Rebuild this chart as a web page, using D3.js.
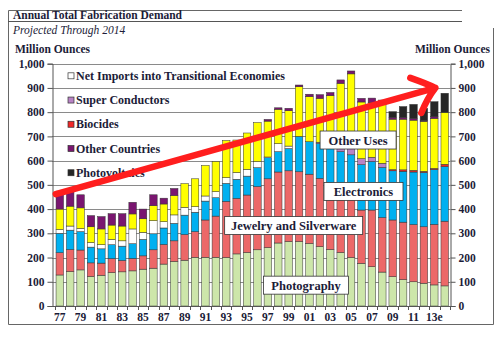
<!DOCTYPE html>
<html>
<head>
<meta charset="utf-8">
<script src="https://cdn.jsdelivr.net/npm/d3@7"></script>
<style>
  body { margin: 0; background: #fff; }
  svg text { font-family: "Liberation Serif", "Times New Roman", serif; }
</style>
</head>
<body>
<script>
// years on the x axis (labels shown every other year)
var years = ["77","78","79","80","81","82","83","84","85","86","87","88","89","90","91","92","93","94","95","96",
             "97","98","99","00","01","02","03","04","05","06","07","08","09","10","11","12","13e","14e"];
var tickYears = ["77","79","81","83","85","87","89","91","93","95","97","99","01","03","05","07","09","11","13e"];
var yTicks = [0,100,200,300,400,500,600,700,800,900,1000];

// million ounces per segment, bottom to top
var photography   = [128,142,149,122,127,138,141,145,152,156,173,184,189,201,201,201,200,215,221,232,
                     241,260,266,266,258,245,233,221,200,176,162,140,121,109,100,94,87,83];
var jewelry       = [92,91,82,56,50,57,47,51,55,76,81,85,106,106,154,170,232,229,237,261,
                     284,293,292,288,286,282,275,256,255,220,234,225,234,237,236,233,250,267];
var electronics   = [80,80,76,65,59,58,59,61,68,66,68,72,80,80,78,76,74,79,78,78,
                     87,84,92,146,134,143,149,160,169,187,200,207,203,210,217,224,226,225];
var netImports    = [16,17,13,19,17,22,22,61,29,54,26,35,32,23,21,25,24,28,28,25,
                     3,33,10,0,0,0,0,0,0,0,0,0,0,0,0,0,0,0];
var superCond     = [0,0,0,0,0,0,0,0,0,0,0,0,0,0,0,0,0,0,0,0,
                     0,0,0,0,0,6,23,56,59,25,18,17,0,0,0,0,0,0];
var biocides      = [0,0,0,0,0,0,0,0,0,0,0,0,0,0,0,0,0,0,0,0,
                     0,0,0,0,0,0,0,0,0,0,0,0,5,6,7,5,5,10];
var otherUses     = [84,82,85,65,65,59,61,62,56,62,73,80,98,115,126,124,153,134,150,161,
                     148,142,146,205,186,181,188,226,275,234,226,251,208,209,207,206,206,214];
var otherCountries= [74,58,54,46,51,47,51,48,40,45,24,29,0,0,0,0,0,0,0,0,
                     7,6,10,7,10,15,13,14,12,15,18,10,7,7,7,4,7,0];
var photovoltaics = [0,0,0,0,0,0,0,0,0,0,0,0,0,0,0,0,0,0,0,0,
                     0,0,0,0,0,0,0,0,0,0,0,0,24,45,58,50,62,79];

var seriesNames = ["Photography","Jewelry and Silverware","Electronics","Net Imports into Transitional Economies",
                   "Super Conductors","Biocides","Other Uses","Other Countries","Photovoltaics"];
var seriesValues = [photography,jewelry,electronics,netImports,superCond,biocides,otherUses,otherCountries,photovoltaics];
var seriesColors = ["#CDE6AA","#EC6868","#00B0F0","#FFFFFF","#B983C6","#F02828","#FFFF00","#7A1670","#262626"];

// legend entries (top to bottom)
var legendNames = ["Net Imports into Transitional Economies","Super Conductors","Biocides","Other Countries","Photovoltaics"];

// build table for the stack
var table = years.map(function(y,i){
  var row = {year:y};
  seriesNames.forEach(function(n,j){ row[n] = seriesValues[j][i]; });
  return row;
});

var W = 500, H = 339;
var svg = d3.select("body").append("svg").attr("width",W).attr("height",H);

var x = d3.scaleBand().domain(years).range([55,449.5]).paddingInner(0.28).paddingOuter(0.1);
var y = d3.scaleLinear().domain([0,1000]).range([306,63.7]);

var ink = "#1c1c38";

// frame
svg.append("path").attr("d","M462,10.5H8.5V324.5H493.5V28").attr("fill","none").attr("stroke","#666").attr("stroke-width",1);
svg.append("line").attr("x1",8).attr("x2",462).attr("y1",21.5).attr("y2",21.5).attr("stroke","#555");

svg.append("text").attr("x",13).attr("y",19).style("font-weight","bold").style("font-size","11.5px").attr("fill",ink)
  .text("Annual Total Fabrication Demand");
svg.append("text").attr("x",13).attr("y",34).style("font-style","italic").style("font-size","11.5px").attr("fill",ink)
  .text("Projected Through 2014");
svg.append("text").attr("x",15).attr("y",53).style("font-weight","bold").style("font-size","11.5px").attr("fill",ink)
  .text("Million Ounces");
svg.append("text").attr("x",490).attr("y",53).attr("text-anchor","end").style("font-weight","bold").style("font-size","11.5px").attr("fill",ink)
  .text("Million Ounces");

// gridlines
svg.append("g").selectAll("line").data(yTicks.slice(1)).enter().append("line")
  .attr("x1",52).attr("x2",450).attr("y1",function(d){return Math.round(y(d))+0.5;}).attr("y2",function(d){return Math.round(y(d))+0.5;})
  .attr("stroke","#8a8a8a").attr("stroke-width",1);

// stacked bars
var stack = d3.stack().keys(seriesNames);
var layers = stack(table);
svg.append("g").selectAll("g").data(layers).enter().append("g")
  .attr("fill",function(d,i){return seriesColors[i];})
  .selectAll("rect").data(function(d){return d.filter(function(p){return p[1]-p[0]>0;});}).enter().append("rect")
  .attr("x",function(d){return x(d.data.year);})
  .attr("width",x.bandwidth())
  .attr("y",function(d){return y(d[1]);})
  .attr("height",function(d){return y(d[0])-y(d[1]);})
  .attr("stroke","#333").attr("stroke-width",0.5);

// axes
var yLeft = d3.axisLeft(y).tickValues(yTicks).tickSize(5).tickFormat(d3.format(","));
var yRight = d3.axisRight(y).tickValues(yTicks).tickSize(5).tickFormat(d3.format(","));
var gl = svg.append("g").attr("transform","translate(52.5,0)").call(yLeft);
var gr = svg.append("g").attr("transform","translate(450.5,0)").call(yRight);
[gl,gr].forEach(function(g){
  g.select(".domain").attr("stroke","#555");
  g.selectAll(".tick line").attr("stroke","#555");
  g.selectAll("text").style("font-weight","bold").style("font-size","11.5px").style("font-family","Liberation Serif").attr("fill",ink);
});

// x axis: baseline, ticks between bars, labels every other year
svg.append("line").attr("x1",52).attr("x2",450).attr("y1",306.5).attr("y2",306.5).attr("stroke","#555");
var step = x.step();
svg.append("g").selectAll("line").data(years.concat(["end"])).enter().append("line")
  .attr("x1",function(d,i){return Math.round(x.range()[0] + x.paddingOuter()*step + i*step - (x.paddingInner()*step)/2)+0.5;})
  .attr("x2",function(d,i){return Math.round(x.range()[0] + x.paddingOuter()*step + i*step - (x.paddingInner()*step)/2)+0.5;})
  .attr("y1",306).attr("y2",310).attr("stroke","#555");
svg.append("g").selectAll("text").data(tickYears).enter().append("text")
  .attr("x",function(d){return x(d)+x.bandwidth()/2;})
  .attr("y",321).attr("text-anchor","middle")
  .style("font-weight","bold").style("font-size","11.5px").attr("fill",ink)
  .text(function(d){return d;});

// legend
var legend = svg.append("g").selectAll("g").data(legendNames).enter().append("g")
  .attr("transform",function(d,i){return "translate(68,"+y(950-100*i)+")";});
legend.append("rect").attr("x",0).attr("y",-3).attr("width",6).attr("height",6)
  .attr("fill",function(d){return seriesColors[seriesNames.indexOf(d)];}).attr("stroke","#333").attr("stroke-width",0.7);
legend.append("text").attr("x",8).attr("y",4).style("font-weight","bold").style("font-size","12px").attr("fill",ink)
  .text(function(d){return d;});

// red trend arrow
var arrowStart = ["77",462], arrowEnd = ["13e",900];
var ax0 = x(arrowStart[0])+x.bandwidth()/2-4, ay0 = y(arrowStart[1]);
var ax1 = x(arrowEnd[0])+x.bandwidth()/2+1, ay1 = y(arrowEnd[1]);
svg.append("path")
  .attr("d","M"+ax0+","+ay0+"L"+ax1+","+ay1+"M"+(ax1-25)+","+(ay1-10)+"Q"+(ax1-8)+","+(ay1-4)+" "+ax1+","+ay1+"Q"+(ax1-8)+","+(ay1+10)+" "+(ax1-14)+","+(ay1+25))
  .attr("fill","none").attr("stroke","#FF1E1E").attr("stroke-width",6.5).attr("stroke-linecap","round").attr("stroke-linejoin","round");

// callout boxes
var callouts = [
  {text:"Other Uses", year:"05", value:685, w:76, dx:7},
  {text:"Electronics", year:"06", value:473, w:79, dx:2},
  {text:"Jewelry and Silverware", year:"99", value:332, w:138, dx:5},
  {text:"Photography", year:"00", value:86, w:85, dx:7}
];
var cg = svg.append("g").selectAll("g").data(callouts).enter().append("g")
  .attr("transform",function(d){return "translate("+(x(d.year)+x.bandwidth()/2+d.dx)+","+y(d.value)+")";});
cg.append("rect").attr("x",function(d){return -d.w/2;}).attr("y",-9).attr("width",function(d){return d.w;}).attr("height",18)
  .attr("fill","#fff").attr("stroke","#333").attr("stroke-width",0.8);
cg.append("text").attr("text-anchor","middle").attr("y",4.5).style("font-weight","bold").style("font-size","12.5px").attr("fill",ink)
  .text(function(d){return d.text;});
</script>
</body>
</html>
